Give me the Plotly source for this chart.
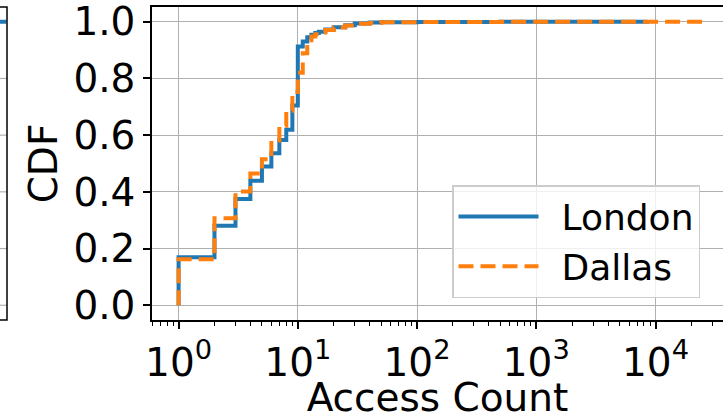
import plotly.graph_objects as go

# ---- data ----
london_x = [1, 2, 3, 4, 5, 6, 7, 8, 9, 10, 11, 12, 13, 14, 15, 17, 20, 25, 30, 40, 50,
            70, 100, 200, 500, 1000, 3000, 8500]
london_cdf = [0.169, 0.280, 0.375, 0.439, 0.489, 0.536, 0.583, 0.619, 0.705, 0.913, 0.930,
              0.945, 0.954, 0.960, 0.965, 0.973, 0.981, 0.988, 0.994, 0.997, 0.998,
              0.9985, 0.999, 0.9995, 0.9997, 0.9998, 0.9999, 1.0]

dallas_x = [1, 2, 3, 4, 5, 6, 7, 8, 9, 10, 11, 12, 13, 14, 15, 17, 20, 25, 30, 40, 50,
            70, 100, 200, 500, 1000, 3000, 10000, 26000]
dallas_cdf = [0.162, 0.307, 0.401, 0.465, 0.515, 0.581, 0.633, 0.686, 0.752, 0.820, 0.889,
              0.935, 0.948, 0.956, 0.962, 0.971, 0.980, 0.987, 0.993, 0.996, 0.998,
              0.9985, 0.999, 0.9995, 0.9997, 0.9998, 0.9999, 0.99995, 1.0]

# tail of the neighbouring (cropped) panel on the left
left_panel_x = [0.0, 0.9]
left_panel_cdf = [1.0, 1.0]

series_names = ["London", "Dallas"]
x_tickvals = [1, 10, 100, 1000, 10000]
x_ticktext = ["10<sup>0</sup>", "10<sup>1</sup>", "10<sup>2</sup>", "10<sup>3</sup>", "10<sup>4</sup>"]
x_minor = [m * 10 ** k for k in range(-1, 5) for m in range(2, 10)]
y_tickvals = [0.0, 0.2, 0.4, 0.6, 0.8, 1.0]

BLUE = "#1f77b4"
ORANGE = "#ff7f0e"
GRID = "#b0b0b0"
FONT = "DejaVu Sans"

W, H = 723, 420
L_PIX, T, B = 152, 7, 100
LEFT_PANEL_W = 7

fig = go.Figure()
fig.add_trace(go.Scatter(
    x=[london_x[0]] + london_x, y=[0.0] + london_cdf, mode="lines",
    name="\u2002" + series_names[0],
    line=dict(color=BLUE, width=4, shape="hv"),
))
fig.add_trace(go.Scatter(
    x=[dallas_x[0]] + dallas_x, y=[0.0] + dallas_cdf, mode="lines",
    name="\u2002" + series_names[1],
    line=dict(color=ORANGE, width=4, shape="hv", dash="15px,7px"),
))
fig.add_trace(go.Scatter(
    x=left_panel_x, y=left_panel_cdf, mode="lines", showlegend=False,
    line=dict(color=BLUE, width=4), xaxis="x2", yaxis="y2",
))

# frame and grid stubs of the cropped neighbouring panel
shapes = []
for v in y_tickvals:
    shapes.append(dict(type="line", xref="paper", yref="y", x0=0, x1=LEFT_PANEL_W / W,
                       y0=v, y1=v, line=dict(color=GRID, width=1.2), layer="below"))
shapes.append(dict(type="rect", xref="paper", yref="paper", x0=-0.05, x1=LEFT_PANEL_W / W,
                   y0=0, y1=1, line=dict(color="black", width=1.5), layer="above"))

fig.update_layout(
    width=W, height=H,
    margin=dict(l=0, r=0, t=T, b=B),
    paper_bgcolor="white", plot_bgcolor="white",
    font=dict(family=FONT, size=39, color="black"),
    shapes=shapes,
    xaxis=dict(
        type="log", domain=[L_PIX / W, 1], range=[-0.223, 4.566],
        tickmode="array", tickvals=x_tickvals, ticktext=x_ticktext,
        ticks="outside", ticklen=7, tickwidth=1.5, tickcolor="black",
        showline=True, linecolor="black", linewidth=1.5, mirror=True,
        showgrid=True, gridcolor=GRID, gridwidth=1.2, zeroline=False,
        minor=dict(tickmode="array", tickvals=x_minor, ticks="outside", ticklen=4,
                   tickwidth=1.2, tickcolor="black", showgrid=False),
        title=dict(text="Access Count", font=dict(size=39), standoff=13),
        tickfont=dict(size=39),
        ticklabeloverflow="allow",
        automargin=False,
        anchor="y",
    ),
    yaxis=dict(
        range=[-0.052, 1.052], domain=[0, 1],
        tickmode="array", tickvals=y_tickvals, tickformat=".1f",
        ticks="outside", ticklen=7, tickwidth=1.5, tickcolor="black",
        showline=True, linecolor="black", linewidth=1.5, mirror=False,
        showgrid=True, gridcolor=GRID, gridwidth=1.2, zeroline=False,
        title=dict(text="CDF", font=dict(size=39), standoff=4),
        tickfont=dict(size=39),
        ticklabeloverflow="allow",
        ticklabelstandoff=0,
        automargin=False,
        anchor="x",
    ),
    xaxis2=dict(
        domain=[0, LEFT_PANEL_W / W], range=[0, 1], anchor="y2", automargin=False,
        showticklabels=False, ticks="", showgrid=False, zeroline=False, showline=False,
    ),
    yaxis2=dict(
        domain=[0, 1], range=[-0.052, 1.052], anchor="x2", automargin=False,
        showticklabels=False, ticks="", showgrid=False, zeroline=False, showline=False,
    ),
    legend=dict(
        x=452 / W, y=(H - B - 185) / (H - T - B), xanchor="left", yanchor="top",
        bgcolor="rgba(255,255,255,0.8)", bordercolor="#cccccc", borderwidth=1.5,
        font=dict(size=36), itemwidth=80,
    ),
)

fig.write_html("out.html")
